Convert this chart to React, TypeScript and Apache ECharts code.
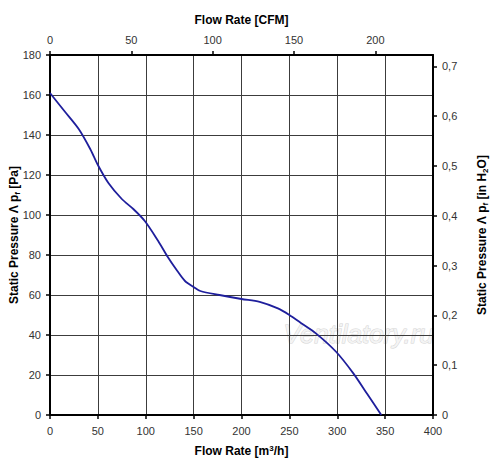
import React, { useEffect, useRef } from "react";
import * as echarts from "echarts";

const flowM3h = [0, 15, 30, 42, 50, 61, 75, 87, 99, 113, 123, 133, 141, 150, 157, 177, 200, 219, 238, 250, 262, 278, 299, 317, 331, 346];
const pressurePa = [161, 152, 143, 133, 125, 116, 108, 103, 97, 87, 79, 72, 67, 64, 62, 60, 58, 56.6, 53.3, 50, 46, 40.7, 31.5, 20.7, 10.7, 0];
const CFM_PER_M3H = 0.5886;
const INH2O_PER_PA = 1 / 249.089;

const FONT = "Liberation Sans, Arial, sans-serif";

export default function App() {
  const ref = useRef<HTMLDivElement>(null);
  useEffect(() => {
    if (!ref.current) return;
    const chart = echarts.init(ref.current, undefined, { renderer: "svg" });
    const axisLine = { show: true, onZero: false, lineStyle: { color: "#000", width: 2 } };
    const axisTick = { show: true, length: 4, lineStyle: { color: "#000", width: 1.5 } };
    const label = { color: "#333", fontSize: 11, fontFamily: FONT };
    const nameStyle = {
      color: "#000",
      fontSize: 12,
      fontWeight: "bold" as const,
      fontFamily: FONT,
      rich: {
        sub: { fontSize: 8, fontWeight: "bold" as const, fontFamily: FONT, color: "#000", padding: [6, 0, 0, 0] },
        sup: { fontSize: 8, fontWeight: "bold" as const, fontFamily: FONT, color: "#000", padding: [0, 0, 5, 0] },
      },
    };
    chart.setOption({
      animation: false,
      backgroundColor: "#fff",
      grid: { left: 50, right: 67, top: 55, bottom: 58, containLabel: false, outerBoundsMode: "none" },
      xAxis: [
        {
          type: "value",
          min: 0,
          max: 400,
          interval: 50,
          position: "bottom",
          name: "Flow Rate [m{sup|3}/h]",
          nameLocation: "middle",
          nameGap: 29,
          nameMoveOverlap: false,
          nameTextStyle: nameStyle,
          axisLine,
          axisTick,
          axisLabel: { ...label, margin: 10 },
          splitLine: { show: true, lineStyle: { color: "#3c3c3c", width: 1 } },
        },
        {
          type: "value",
          min: 0,
          max: 400 * CFM_PER_M3H,
          interval: 50,
          position: "top",
          name: "Flow Rate [CFM]",
          nameLocation: "middle",
          nameGap: 29,
          nameMoveOverlap: false,
          nameTextStyle: nameStyle,
          axisLine,
          axisTick,
          axisLabel: { ...label, margin: 10, showMaxLabel: false },
          splitLine: { show: false },
        },
      ],
      yAxis: [
        {
          type: "value",
          min: 0,
          max: 180,
          interval: 20,
          position: "left",
          name: "Static Pressure Λ p{sub|f} [Pa]",
          nameLocation: "middle",
          nameGap: 29,
          nameMoveOverlap: false,
          nameTextStyle: nameStyle,
          axisLine,
          axisTick,
          axisLabel: { ...label, margin: 9 },
          splitLine: { show: true, lineStyle: { color: "#3c3c3c", width: 1 } },
        },
        {
          type: "value",
          min: 0,
          max: 180 * INH2O_PER_PA,
          interval: 0.1,
          position: "right",
          name: "Static Pressure Λ p{sub|f} [in H{sub|2}O]",
          nameLocation: "middle",
          nameGap: 42,
          nameMoveOverlap: false,
          nameTextStyle: nameStyle,
          axisLine,
          axisTick,
          axisLabel: {
            ...label,
            margin: 9,
            showMaxLabel: false,
            formatter: (v: number) => (v === 0 ? "0" : v.toFixed(1).replace(".", ",")),
          },
          splitLine: { show: false },
        },
      ],
      graphic: [
        {
          type: "text",
          left: 283,
          top: 320,
          z: 0,
          style: {
            text: "Ventilatory.ru",
            fontSize: 26,
            fontStyle: "italic",
            fontFamily: FONT,
            fill: "#f4f4f4",
            stroke: "#d4d4d4",
            lineWidth: 1,
          },
        },
      ],
      series: [
        {
          type: "line",
          xAxisIndex: 0,
          yAxisIndex: 0,
          data: flowM3h.map((x, i) => [x, pressurePa[i]]),
          smooth: 0.3,
          symbol: "none",
          lineStyle: { color: "#1e1e9c", width: 1.8 },
          z: 5,
        },
      ],
    });
    return () => chart.dispose();
  }, []);
  return <div ref={ref} style={{ width: 500, height: 473, position: "absolute", left: 0, top: 0 }} />;
}
